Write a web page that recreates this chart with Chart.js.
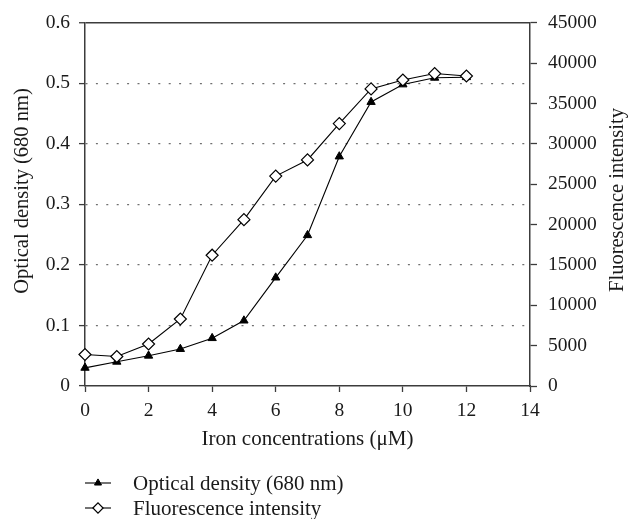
<!DOCTYPE html>
<html>
<head>
<meta charset="utf-8">
<script src="https://cdn.jsdelivr.net/npm/chart.js@4/dist/chart.umd.min.js"></script>
<style>
  html, body { margin: 0; padding: 0; background: #ffffff; }
  canvas { display: block; }
</style>
</head>
<body>
<canvas id="c" width="629" height="519"></canvas>
<script>
// ---- data ----
const ironConcentrations = [0, 1, 2, 3, 4, 5, 6, 7, 8, 9, 10, 11, 12];
const opticalDensity = [0.03, 0.04, 0.05, 0.061, 0.079, 0.108, 0.179, 0.249, 0.379, 0.469, 0.498, 0.509, 0.51];
const fluorescenceIntensity = [3900, 3650, 5200, 8300, 16200, 20600, 26000, 28000, 32500, 36800, 37900, 38700, 38400];

const xTickLabels = ["0", "2", "4", "6", "8", "10", "12", "14"];
const odTickLabels = ["0", "0.1", "0.2", "0.3", "0.4", "0.5", "0.6"];
const flTickLabels = ["0", "5000", "10000", "15000", "20000", "25000", "30000", "35000", "40000", "45000"];

const seriesNames = ["Optical density (680 nm)", "Fluorescence intensity"];
const xAxisTitle = "Iron concentrations (\u03BCM)";
const leftAxisTitle = "Optical density (680 nm)";
const rightAxisTitle = "Fluorescence intensity";

// ---- styling ----
const FAMILY = "'Liberation Serif', 'Times New Roman', serif";
const TICK_SIZE = 19.5;
const YTITLE_SIZE = 20.5;
const XTITLE_SIZE = 21;
const LEGEND_SIZE = 21;
const TEXT = '#1a1a1a';
const AXIS = '#3c3c3c';

const odPoints = ironConcentrations.map((x, i) => ({ x: x, y: opticalDensity[i] }));
const flPoints = ironConcentrations.map((x, i) => ({ x: x, y: fluorescenceIntensity[i] }));

const extras = {
  id: 'extras',
  afterDraw(chart) {
    const ctx = chart.ctx;
    ctx.save();
    ctx.fillStyle = TEXT;
    ctx.textAlign = 'center';
    ctx.textBaseline = 'middle';
    // vertical axis titles (both read bottom-to-top)
    ctx.font = YTITLE_SIZE + 'px ' + FAMILY;
    ctx.save(); ctx.translate(23, 191); ctx.rotate(-Math.PI / 2); ctx.fillText(leftAxisTitle, 0, 0); ctx.restore();
    ctx.save(); ctx.translate(618, 200); ctx.rotate(-Math.PI / 2); ctx.fillText(rightAxisTitle, 0, 0); ctx.restore();

    // legend below the chart, one row per series
    ctx.font = LEGEND_SIZE + 'px ' + FAMILY;
    const order = [0, 1];
    order.forEach((di, row) => {
      const ds = chart.data.datasets[di];
      const y = 483 + row * 25;
      ctx.save();
      ctx.strokeStyle = ds.borderColor;
      ctx.lineWidth = ds.borderWidth;
      ctx.beginPath(); ctx.moveTo(85, y); ctx.lineTo(111, y); ctx.stroke();
      ctx.fillStyle = ds.pointBackgroundColor;
      ctx.strokeStyle = ds.pointBorderColor;
      ctx.lineWidth = ds.pointBorderWidth;
      Chart.helpers.drawPoint(ctx, { pointStyle: ds.pointStyle, radius: ds.pointRadius * 0.85, borderWidth: ds.pointBorderWidth, rotation: 0 }, 98, y);
      ctx.restore();
      ctx.textAlign = 'left';
      ctx.fillStyle = TEXT;
      ctx.fillText(ds.label, 133, y + 1);
    });
    ctx.restore();
  }
};

const dottedDash = (c) => (c.type === 'tick' && c.tick && c.tick.value < 0.59) ? [2, 8.4] : [];

new Chart(document.getElementById('c'), {
  type: 'line',
  data: {
    datasets: [
      {
        label: seriesNames[0],
        data: odPoints,
        yAxisID: 'y',
        borderColor: '#000000',
        borderWidth: 1.1,
        pointStyle: 'triangle',
        pointRadius: 4.8,
        pointBackgroundColor: '#000000',
        pointBorderColor: '#000000',
        pointBorderWidth: 1,
        tension: 0,
        fill: false,
        clip: false,
        order: 2
      },
      {
        label: seriesNames[1],
        data: flPoints,
        yAxisID: 'y2',
        borderColor: '#000000',
        borderWidth: 1.1,
        pointStyle: 'rectRot',
        pointRadius: 6,
        pointBackgroundColor: '#ffffff',
        pointBorderColor: '#000000',
        pointBorderWidth: 1.2,
        tension: 0,
        fill: false,
        clip: false,
        order: 1
      }
    ]
  },
  options: {
    responsive: false,
    animation: false,
    events: [],
    layout: { padding: { top: 21, left: 0, right: 0, bottom: 67 } },
    plugins: {
      legend: { display: false },
      tooltip: { enabled: false },
      title: { display: false }
    },
    scales: {
      x: {
        type: 'linear',
        position: 'bottom',
        min: 0, max: 14,
        ticks: {
          stepSize: 2,
          color: TEXT,
          padding: 7,
          font: { family: FAMILY, size: TICK_SIZE },
          callback: (v, i) => xTickLabels[i]
        },
        grid: { drawOnChartArea: false, drawTicks: true, tickLength: 6, tickColor: AXIS, tickWidth: 1.3 },
        border: { display: true, color: AXIS, width: 1.5 },
        title: {
          display: true,
          text: xAxisTitle,
          color: TEXT,
          padding: { top: 0, bottom: 0 },
          font: { family: FAMILY, size: XTITLE_SIZE }
        },
        afterFit: (s) => { s.height = 66; }
      },
      y: {
        type: 'linear',
        position: 'left',
        min: 0, max: 0.6,
        ticks: {
          stepSize: 0.1,
          color: TEXT,
          padding: 9,
          font: { family: FAMILY, size: TICK_SIZE },
          callback: (v, i) => odTickLabels[i]
        },
        grid: {
          drawOnChartArea: true,
          tickLength: 6,
          tickColor: AXIS,
          tickWidth: 1.3,
          tickBorderDash: [],
          color: (c) => {
            if (c.type !== 'tick') return '#777';
            if (c.tick.value < 0.001) return 'rgba(0,0,0,0)';
            if (c.tick.value > 0.59) return AXIS;
            return '#707070';
          },
          lineWidth: (c) => (c.type === 'tick' && c.tick.value > 0.59) ? 1.5 : 1.2
        },
        border: { display: true, color: AXIS, width: 1.5, dash: dottedDash, dashOffset: 0 },
        title: { display: false },
        afterFit: (s) => { s.width = 85; }
      },
      y2: {
        type: 'linear',
        position: 'right',
        min: 0, max: 45000,
        ticks: {
          stepSize: 5000,
          color: TEXT,
          padding: 11,
          font: { family: FAMILY, size: TICK_SIZE },
          callback: (v, i) => flTickLabels[i]
        },
        grid: { drawOnChartArea: false, tickLength: 7, tickColor: AXIS, tickWidth: 1.3 },
        border: { display: true, color: AXIS, width: 1.5 },
        title: { display: false },
        afterFit: (s) => { s.width = 99; }
      }
    }
  },
  plugins: [extras]
});
</script>
</body>
</html>
